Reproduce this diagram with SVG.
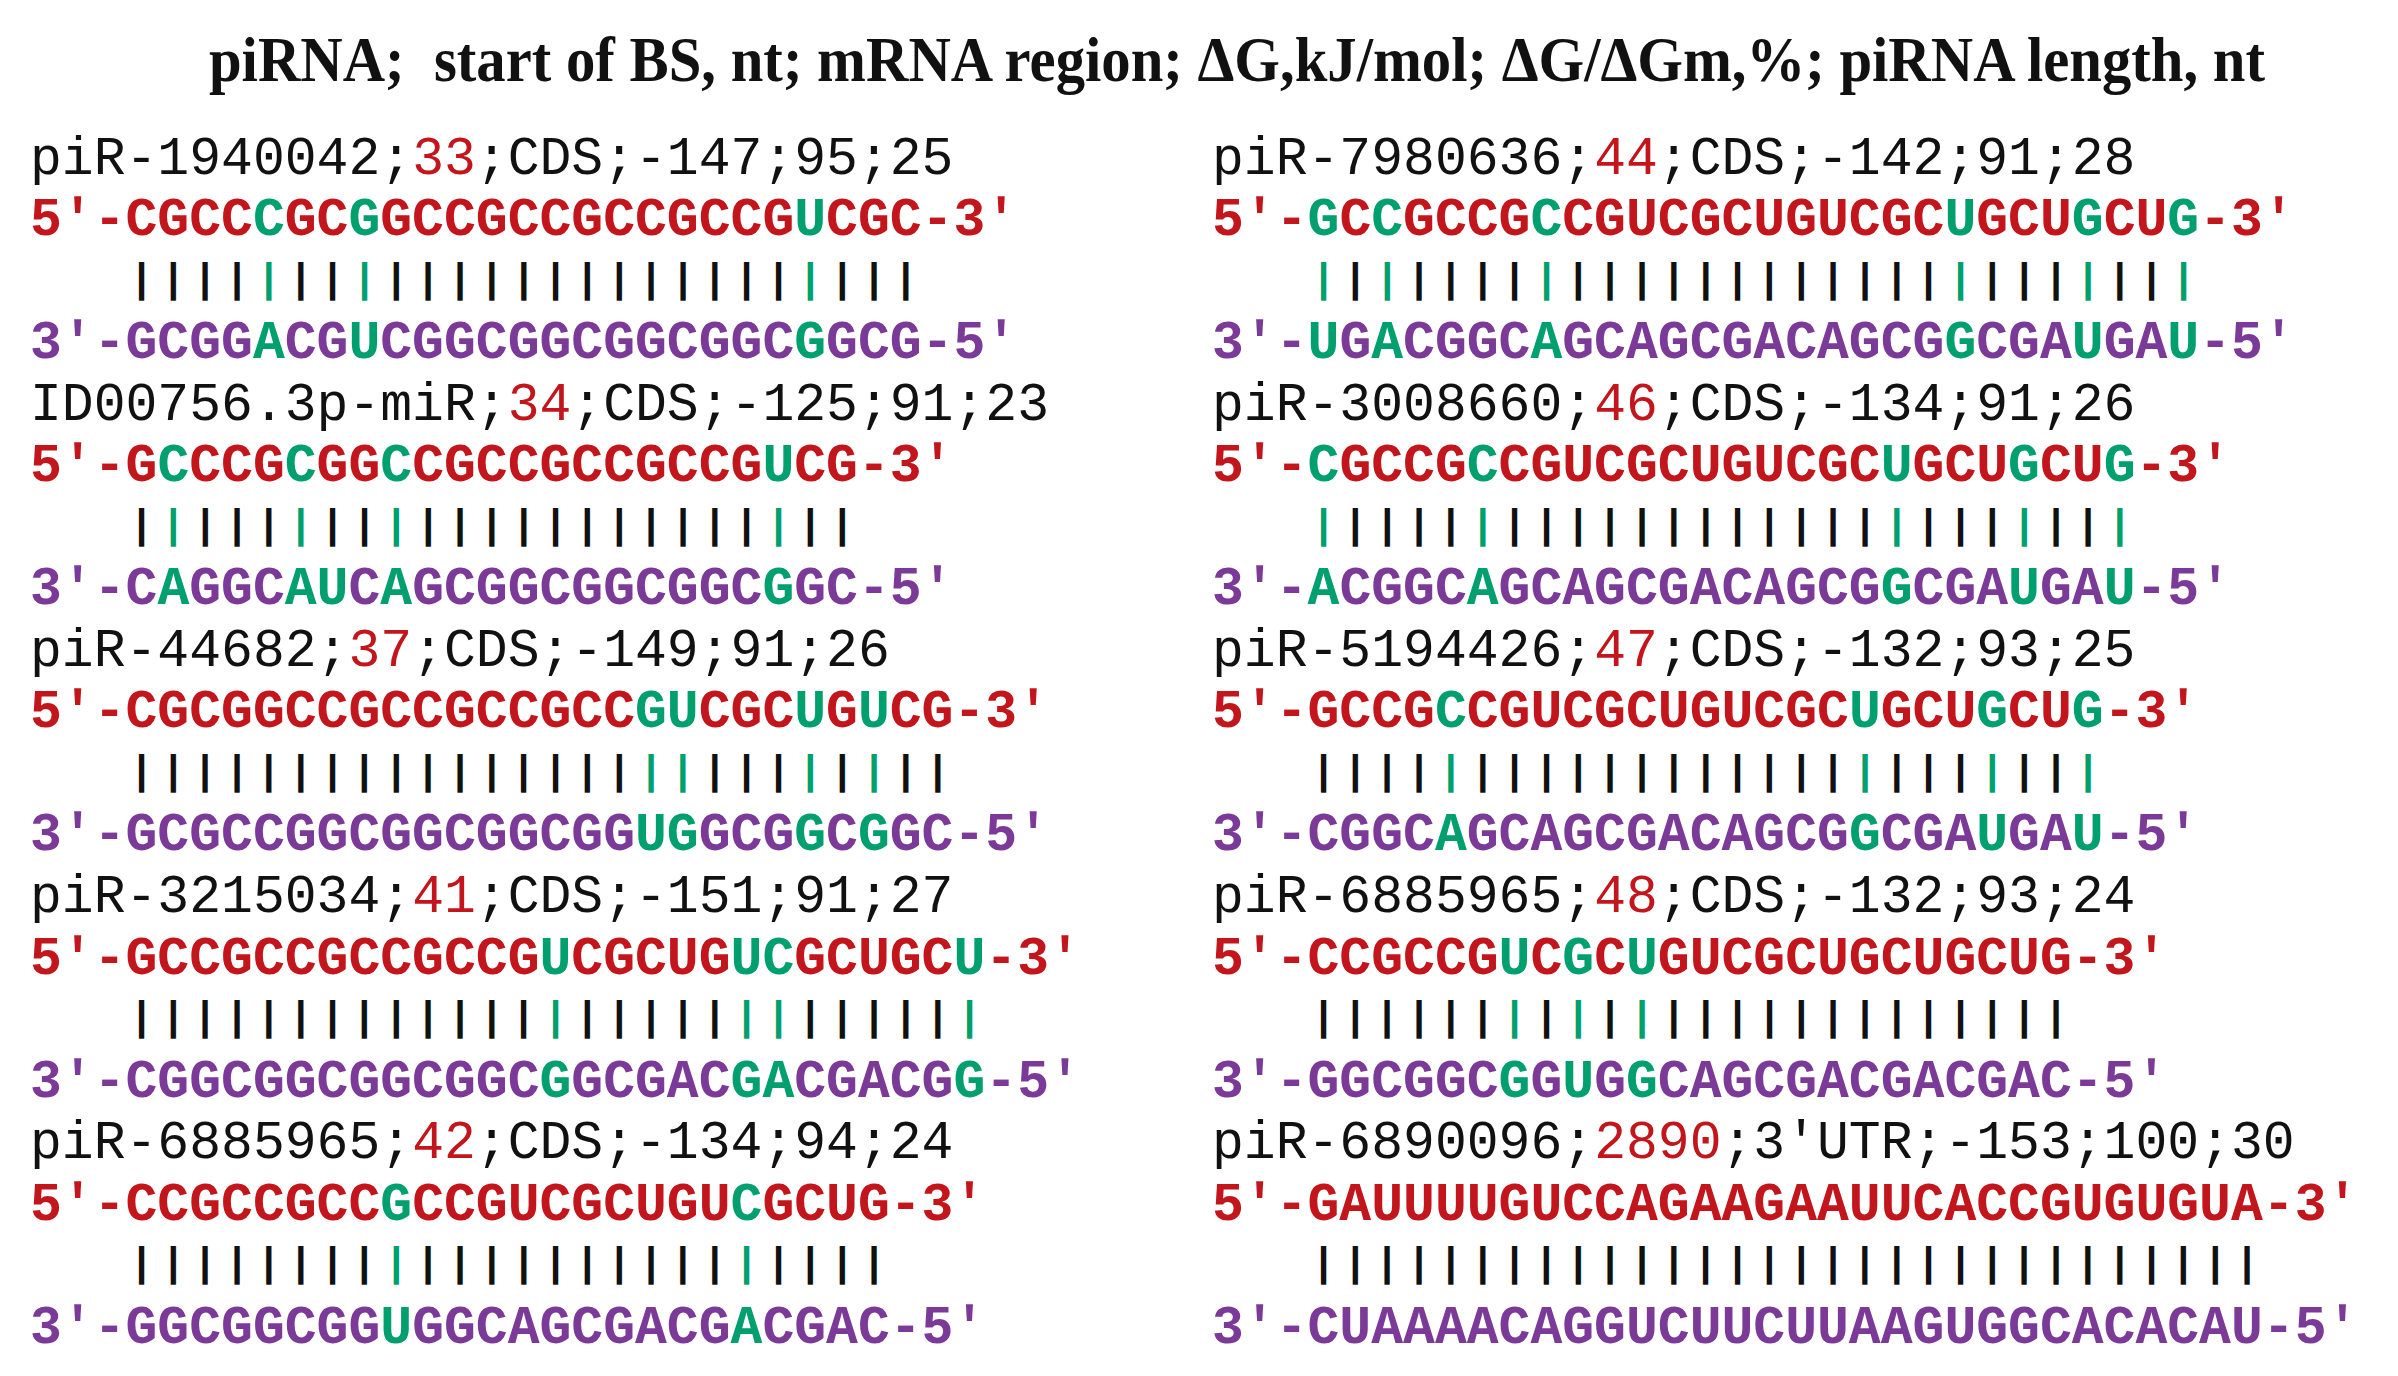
<svg xmlns="http://www.w3.org/2000/svg" width="2398" height="1376" viewBox="0 0 2398 1376">
<style>
.t{font-family:"Liberation Serif","Times New Roman",serif;font-weight:bold;font-size:63px;fill:#111}
.h{font-family:"Liberation Mono","Courier New",monospace;font-size:53.07px;fill:#111}
.s{font-family:"Liberation Mono","Courier New",monospace;font-size:53.07px;font-weight:bold}
.b{font-family:"Liberation Mono","Courier New",monospace;font-size:41px;font-weight:bold;letter-spacing:7.245px;fill:#111}
.r{fill:#C2161C}
.p{fill:#7B3A98}
.g{fill:#00A06E}
</style>
<rect width="2398" height="1376" fill="#fff"/>
<text class="t" transform="translate(1237,81) scale(0.932,1)" x="0" y="0" text-anchor="middle" xml:space="preserve">piRNA;  start of BS, nt; mRNA region; ΔG,kJ/mol; ΔG/ΔGm,%; piRNA length, nt</text>

<g id="block-L1" transform="translate(30,156)">
<text class="h" x="0" y="17.5">piR-1940042;<tspan class="r">33</tspan>;CDS;-147;95;25</text>
<text class="s r" x="0" y="79">5'-CGCC<tspan class="g">C</tspan>GC<tspan class="g">G</tspan>GCCGCCGCCGCCG<tspan class="g">U</tspan>CGC-3'</text>
<text class="b" x="99.175" y="135.6">||||<tspan class="g">|</tspan>||<tspan class="g">|</tspan>|||||||||||||<tspan class="g">|</tspan>|||</text>
<text class="s p" x="0" y="202">3'-GCGG<tspan class="g">A</tspan>CG<tspan class="g">U</tspan>CGGCGGCGGCGGC<tspan class="g">G</tspan>GCG-5'</text>
</g>

<g id="block-L2" transform="translate(30,402.2)">
<text class="h" x="0" y="17.5">ID00756.3p-miR;<tspan class="r">34</tspan>;CDS;-125;91;23</text>
<text class="s r" x="0" y="79">5'-G<tspan class="g">C</tspan>CCG<tspan class="g">C</tspan>GG<tspan class="g">C</tspan>CGCCGCCGCCG<tspan class="g">U</tspan>CG-3'</text>
<text class="b" x="99.175" y="135.6">|<tspan class="g">|</tspan>|||<tspan class="g">|</tspan>||<tspan class="g">|</tspan>|||||||||||<tspan class="g">|</tspan>||</text>
<text class="s p" x="0" y="202">3'-C<tspan class="g">A</tspan>GGC<tspan class="g">AU</tspan>C<tspan class="g">A</tspan>GCGGCGGCGGC<tspan class="g">G</tspan>GC-5'</text>
</g>

<g id="block-L3" transform="translate(30,648.4)">
<text class="h" x="0" y="17.5">piR-44682;<tspan class="r">37</tspan>;CDS;-149;91;26</text>
<text class="s r" x="0" y="79">5'-CGCGGCCGCCGCCGCC<tspan class="g">GU</tspan>CGC<tspan class="g">U</tspan>G<tspan class="g">U</tspan>CG-3'</text>
<text class="b" x="99.175" y="135.6">||||||||||||||||<tspan class="g">||</tspan>|||<tspan class="g">|</tspan>|<tspan class="g">|</tspan>||</text>
<text class="s p" x="0" y="202">3'-GCGCCGGCGGCGGCGG<tspan class="g">UG</tspan>GCG<tspan class="g">G</tspan>C<tspan class="g">G</tspan>GC-5'</text>
</g>

<g id="block-L4" transform="translate(30,894.6)">
<text class="h" x="0" y="17.5">piR-3215034;<tspan class="r">41</tspan>;CDS;-151;91;27</text>
<text class="s r" x="0" y="79">5'-GCCGCCGCCGCCG<tspan class="g">U</tspan>CGCUG<tspan class="g">UC</tspan>GCUGC<tspan class="g">U</tspan>-3'</text>
<text class="b" x="99.175" y="135.6">|||||||||||||<tspan class="g">|</tspan>|||||<tspan class="g">||</tspan>|||||<tspan class="g">|</tspan></text>
<text class="s p" x="0" y="202">3'-CGGCGGCGGCGGC<tspan class="g">G</tspan>GCGAC<tspan class="g">GA</tspan>CGACG<tspan class="g">G</tspan>-5'</text>
</g>

<g id="block-L5" transform="translate(30,1140.8)">
<text class="h" x="0" y="17.5">piR-6885965;<tspan class="r">42</tspan>;CDS;-134;94;24</text>
<text class="s r" x="0" y="79">5'-CCGCCGCC<tspan class="g">G</tspan>CCGUCGCUGU<tspan class="g">C</tspan>GCUG-3'</text>
<text class="b" x="99.175" y="135.6">||||||||<tspan class="g">|</tspan>||||||||||<tspan class="g">|</tspan>||||</text>
<text class="s p" x="0" y="202">3'-GGCGGCGG<tspan class="g">U</tspan>GGCAGCGACG<tspan class="g">A</tspan>CGAC-5'</text>
</g>

<g id="block-R1" transform="translate(1212,156)">
<text class="h" x="0" y="17.5">piR-7980636;<tspan class="r">44</tspan>;CDS;-142;91;28</text>
<text class="s r" x="0" y="79">5'-<tspan class="g">G</tspan>C<tspan class="g">C</tspan>GCCG<tspan class="g">C</tspan>CGUCGCUGUCGC<tspan class="g">U</tspan>GCU<tspan class="g">G</tspan>CU<tspan class="g">G</tspan>-3'</text>
<text class="b" x="99.175" y="135.6"><tspan class="g">|</tspan>|<tspan class="g">|</tspan>||||<tspan class="g">|</tspan>||||||||||||<tspan class="g">|</tspan>|||<tspan class="g">|</tspan>||<tspan class="g">|</tspan></text>
<text class="s p" x="0" y="202">3'-<tspan class="g">U</tspan>G<tspan class="g">A</tspan>CGGC<tspan class="g">A</tspan>GCAGCGACAGCG<tspan class="g">G</tspan>CGA<tspan class="g">U</tspan>GA<tspan class="g">U</tspan>-5'</text>
</g>

<g id="block-R2" transform="translate(1212,402.2)">
<text class="h" x="0" y="17.5">piR-3008660;<tspan class="r">46</tspan>;CDS;-134;91;26</text>
<text class="s r" x="0" y="79">5'-<tspan class="g">C</tspan>GCCG<tspan class="g">C</tspan>CGUCGCUGUCGC<tspan class="g">U</tspan>GCU<tspan class="g">G</tspan>CU<tspan class="g">G</tspan>-3'</text>
<text class="b" x="99.175" y="135.6"><tspan class="g">|</tspan>||||<tspan class="g">|</tspan>||||||||||||<tspan class="g">|</tspan>|||<tspan class="g">|</tspan>||<tspan class="g">|</tspan></text>
<text class="s p" x="0" y="202">3'-<tspan class="g">A</tspan>CGGC<tspan class="g">A</tspan>GCAGCGACAGCG<tspan class="g">G</tspan>CGA<tspan class="g">U</tspan>GA<tspan class="g">U</tspan>-5'</text>
</g>

<g id="block-R3" transform="translate(1212,648.4)">
<text class="h" x="0" y="17.5">piR-5194426;<tspan class="r">47</tspan>;CDS;-132;93;25</text>
<text class="s r" x="0" y="79">5'-GCCG<tspan class="g">C</tspan>CGUCGCUGUCGC<tspan class="g">U</tspan>GCU<tspan class="g">G</tspan>CU<tspan class="g">G</tspan>-3'</text>
<text class="b" x="99.175" y="135.6">||||<tspan class="g">|</tspan>||||||||||||<tspan class="g">|</tspan>|||<tspan class="g">|</tspan>||<tspan class="g">|</tspan></text>
<text class="s p" x="0" y="202">3'-CGGC<tspan class="g">A</tspan>GCAGCGACAGCG<tspan class="g">G</tspan>CGA<tspan class="g">U</tspan>GA<tspan class="g">U</tspan>-5'</text>
</g>

<g id="block-R4" transform="translate(1212,894.6)">
<text class="h" x="0" y="17.5">piR-6885965;<tspan class="r">48</tspan>;CDS;-132;93;24</text>
<text class="s r" x="0" y="79">5'-CCGCCG<tspan class="g">U</tspan>C<tspan class="g">G</tspan>C<tspan class="g">U</tspan>GUCGCUGCUGCUG-3'</text>
<text class="b" x="99.175" y="135.6">||||||<tspan class="g">|</tspan>|<tspan class="g">|</tspan>|<tspan class="g">|</tspan>|||||||||||||</text>
<text class="s p" x="0" y="202">3'-GGCGGC<tspan class="g">G</tspan>G<tspan class="g">U</tspan>G<tspan class="g">G</tspan>CAGCGACGACGAC-5'</text>
</g>

<g id="block-R5" transform="translate(1212,1140.8)">
<text class="h" x="0" y="17.5">piR-6890096;<tspan class="r">2890</tspan>;3'UTR;-153;100;30</text>
<text class="s r" x="0" y="79">5'-GAUUUUGUCCAGAAGAAUUCACCGUGUGUA-3'</text>
<text class="b" x="99.175" y="135.6">||||||||||||||||||||||||||||||</text>
<text class="s p" x="0" y="202">3'-CUAAAACAGGUCUUCUUAAGUGGCACACAU-5'</text>
</g>
</svg>
